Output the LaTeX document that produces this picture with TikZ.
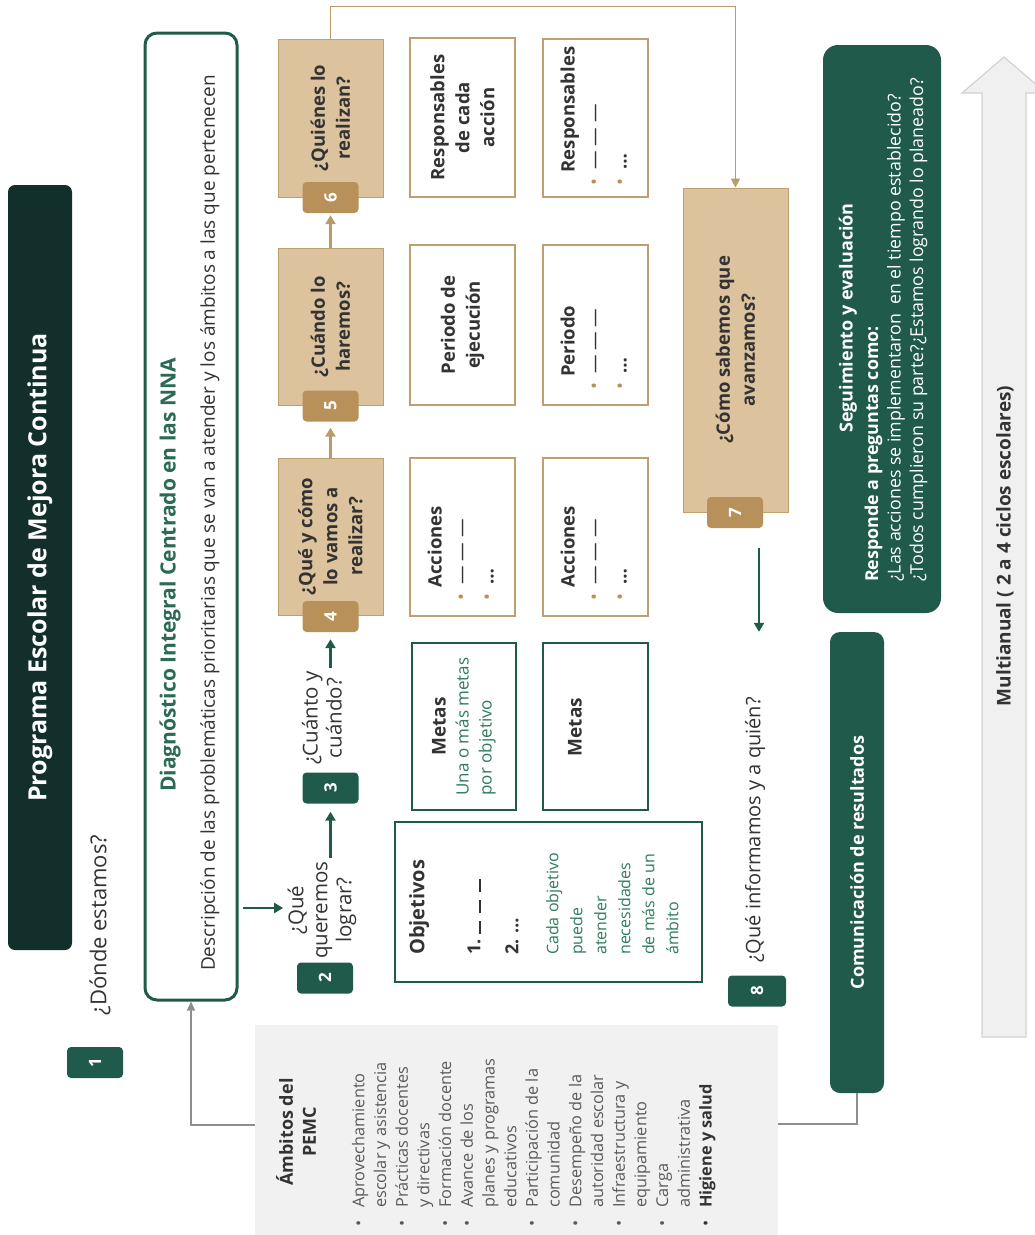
\documentclass[tikz,border=0pt]{standalone}
\usepackage{fontspec}
\setmainfont{Open Sans}
\usetikzlibrary{arrows.meta,calc}
\definecolor{darkbg}{HTML}{132F2B}
\definecolor{dgreen}{HTML}{1F5A4A}
\definecolor{dtitle}{HTML}{2B6A54}
\definecolor{lgtxt}{HTML}{2E7B5B}
\definecolor{tanfill}{HTML}{DCC39D}
\definecolor{tanbord}{HTML}{BE9F6E}
\definecolor{tanbadge}{HTML}{B8915A}
\definecolor{tanline}{HTML}{B99A68}
\definecolor{txt}{HTML}{333333}
\definecolor{listc}{HTML}{5A5A5A}
\definecolor{lgray}{HTML}{F1F1F1}
\definecolor{arrgray}{HTML}{F0F0F0}
\definecolor{arrbord}{HTML}{D2D2D2}
\definecolor{conng}{HTML}{8E8E8E}
\newcommand\myfs[2]{\fontsize{#1}{#2}\selectfont}
\newcommand\dashbar{\rule[-0.5pt]{13pt}{1.6pt}}
\newcommand\blist[1]{\begin{tabular}{@{}l@{\hspace{9pt}}l@{}}\multicolumn{2}{@{\hspace{13pt}}l@{}}{\bfseries #1}\\ \textcolor{tanbadge}{•} & — — —\\ \textcolor{tanbadge}{•} & \bfseries …\end{tabular}}
\begin{document}
\begin{tikzpicture}[x=1pt,y=-1pt,
 rot/.style={rotate=90},
 badge/.style={rot, rounded corners=4pt, minimum width=31pt, minimum height=56pt, inner sep=0pt, text=white, font=\bfseries\myfs{17}{18}},
 gbadge/.style={badge, fill=dgreen},
 tbadge/.style={badge, fill=tanbadge},
 tanbox/.style={rot, fill=tanfill, draw=tanbord, line width=1pt, minimum width=157pt, minimum height=105pt, inner sep=0pt, align=center, text=txt, font=\bfseries\myfs{18.5}{25}},
 wtbox/.style={rot, fill=white, draw=tanbord, line width=2pt, minimum width=158pt, minimum height=105pt, inner sep=0pt, align=center, text=txt, font=\bfseries\myfs{18.5}{25}},
 wgbox/.style={rot, fill=white, draw=dgreen, line width=2pt, inner sep=0pt, text=txt},
 gar/.style={draw=dgreen, line width=2.6pt, -{Triangle[length=9pt,width=10pt]}},
 tar/.style={draw=tanline, line width=2.6pt, -{Triangle[length=9pt,width=10pt]}},
 tline/.style={draw=tanline, line width=1.6pt, -{Triangle[length=9pt,width=9pt]}},
 grar/.style={draw=conng, line width=1.2pt, -{Triangle[length=9pt,width=8pt]}},
 grline/.style={draw=conng, line width=1.2pt},
 q/.style={rot, text=txt, align=center, font=\myfs{20.5}{24}},
 listtxt/.style={rot, inner sep=0pt, text=txt, font=\myfs{18.5}{26}},
]
\useasboundingbox (0,0) rectangle (1035,1235);

% title and step 1
\node[rot, fill=darkbg, rounded corners=7pt, minimum width=765pt, minimum height=64pt, text=white, font=\bfseries\myfs{25}{28}] (title) at (40,567.5) {Programa Escolar de Mejora Continua};
\node[rot, text=txt, font=\myfs{22}{24}] (q1) at (100,925) {¿Dónde estamos?};
\node[gbadge] (b1) at (95,1062.5) {1};

% diagnostico
\node[rot, fill=white, draw=dgreen, line width=3pt, rounded corners=12pt, minimum width=967pt, minimum height=92pt] (diag) at (191,516.5) {};
\node[rot, text=dtitle, font=\bfseries\myfs{21}{24}] (diagt) at (170,575) {Diagnóstico Integral Centrado en las NNA};
\node[rot, text=txt, font=\myfs{19}{20}] (diagd) at (210,523) {Descripción de las problemáticas prioritarias que se van a atender y los ámbitos a las que pertenecen};

% ambitos
\node[rot, fill=lgray, minimum width=210pt, minimum height=523pt] (amb) at (516.5,1130) {};
\node[rot, align=center, text=txt, font=\bfseries\myfs{18}{23}] (ambt) at (296,1132) {Ámbitos del\\PEMC};
\node[rot, anchor=north west, inner sep=0pt, text=listc, font=\myfs{16.3}{21.7}] (ambl) at (349,1227) {\begin{tabular}{@{}l@{\hspace{13pt}}l@{}}
• & Aprovechamiento\\ & escolar y asistencia\\ • & Prácticas docentes\\ & y directivas\\ • & Formación docente\\ • & Avance de los\\ & planes y programas\\ & educativos\\ • & Participación de la\\ & comunidad\\ • & Desempeño de la\\ & autoridad escolar\\ • & Infraestructura y\\ & equipamiento\\ • & Carga\\ & administrativa\\ \textcolor{txt}{•} & \textcolor{txt}{\bfseries Higiene y salud}\end{tabular}};
\draw[grar] ([yshift=5pt]amb.north) -| (diag.west);

% step 2 and 3
\node[gbadge] (b2) at (325,978) {2};
\node[q] (q2) at (322,910) {¿Qué\\queremos\\lograr?};
\draw[gar] ($(diag.south |- q2.center)+(4,-2)$) -- ($(q2.north)+(-1,-2)$);
\node[gbadge] (b3) at (330.5,788) {3};
\draw[gar, shorten >=8pt] (q2.east -| b3.center) -- (b3.west);
\node[q] (q3) at (322,718) {¿Cuánto y\\cuándo?};

% tan steps 4-6
\node[tanbox] (box4) at (330.5,536.5) {¿Qué y cómo\\lo vamos a\\realizar?};
\node[tbadge] (b4) at (330.5,616.5) {4};
\draw[gar, shorten >=7pt] (q3.east -| b4.center) -- (b4.west);
\node[tanbox, minimum width=157pt] (box5) at (330.5,326.5) {¿Cuándo lo\\haremos?};
\node[tbadge] (b5) at (330.5,406) {5};
\draw[tar, shorten >=6pt] (box4.east -| b5.center) -- (b5.west);
\node[tanbox, minimum width=158pt] (box6) at (330.5,118) {¿Quiénes lo\\realizan?};
\node[tbadge] (b6) at (330.5,197.5) {6};
\draw[tar, shorten >=2pt] (box5.east -| b6.center) -- (b6.west);

% white boxes
\node[wgbox, minimum width=167pt, minimum height=104pt, font=\myfs{17}{23}] (m1) at (464,726.5) {\begin{tabular}{@{}l@{}}\multicolumn{1}{@{}c@{}}{\textcolor{txt}{\bfseries\myfs{19}{25}Metas}}\\ \textcolor{lgtxt}{Una o más metas}\\ \textcolor{lgtxt}{por objetivo}\end{tabular}};
\node[wgbox, minimum width=167pt, minimum height=105pt] (m2) at (595.5,726.5) {};
\node[rot, text=txt, font=\bfseries\myfs{19}{24}] (m2t) at (575,727) {Metas};
\node[wgbox, minimum width=160pt, minimum height=307pt] (obj) at (548.5,902) {};
\node[rot, anchor=north west, inner sep=0pt, align=left, text=txt, font=\myfs{16}{24}] (objt) at (409,955) {{\bfseries\myfs{20}{24}Objetivos}\\[32pt]{\bfseries\myfs{18}{24}1.}\hspace{5pt}\dashbar\hspace{8pt}\dashbar\hspace{8pt}\dashbar\\[14pt]{\bfseries\myfs{18}{24}2. …}\\[16pt]\textcolor{lgtxt}{Cada objetivo}\\\textcolor{lgtxt}{puede}\\\textcolor{lgtxt}{atender}\\\textcolor{lgtxt}{necesidades}\\\textcolor{lgtxt}{de más de un}\\\textcolor{lgtxt}{ámbito}};

\node[wtbox, minimum width=159pt] (r1) at (462.5,117.5) {Responsables\\de cada\\acción};
\node[wtbox] (r2) at (595.5,117.5) {};
\node[listtxt, anchor=west] (r2t) at ($(r2.west)+(0,-12)$) {\blist{Responsables}};
\node[wtbox, minimum width=160pt] (p1) at (462.5,325) {Periodo de\\ejecución};
\node[wtbox, minimum width=160pt] (p2) at (595.5,325) {};
\node[listtxt, anchor=west] (p2t) at ($(p2.west)+(0,-16)$) {\blist{Periodo}};
\node[wtbox] (a1) at (462.5,536.5) {};
\node[listtxt, anchor=west] (a1t) at ($(a1.west)+(0,-16)$) {\blist{Acciones}};
\node[wtbox] (a2) at (595.5,536.5) {};
\node[listtxt, anchor=west] (a2t) at ($(a2.west)+(0,-16)$) {\blist{Acciones}};

% step 7
\node[tanbox, minimum width=324pt] (box7) at (735.5,350) {¿Cómo sabemos que\\avanzamos?};
\node[tbadge] (b7) at (735,512.5) {7};
\draw[tline] (box6.east) -- ++(0,-32) -| (box7.east);

% seguimiento
\node[rot, fill=dgreen, rounded corners=15pt, minimum width=568pt, minimum height=118pt] (seg) at (882,329) {};
\node[rot, text=white, font=\bfseries\myfs{18}{20}] (segt) at (848,318) {Seguimiento y evaluación};
\node[rot, anchor=west, inner sep=0pt, text=white, align=left, font=\myfs{17.8}{22.5}] (segl) at (896,582) {\textbf{Responde a preguntas como:}\\¿Las acciones se implementaron\ \ en el tiempo establecido?\\¿Todos cumplieron su parte?¿Estamos logrando lo planeado?};

% step 8
\node[rot, fill=dgreen, rounded corners=10pt, minimum width=461pt, minimum height=54pt, text=white, font=\bfseries\myfs{18}{20}] (comm) at (857,862.5) {Comunicación de resultados};
\node[rot, text=txt, font=\myfs{20}{22}] (q8) at (755,830) {¿Qué informamos y a quién?};
\node[gbadge, minimum height=58pt] (b8) at (757,991) {8};
\coordinate (s7) at ($(b7.west)+(24,20)$);
\draw[gar] (s7) -- (s7 |- comm.east);
\draw[grline] (comm.west) |- ([yshift=6pt]amb.south);

% multianual arrow
\draw[fill=arrgray, draw=arrbord, line width=1.2pt] (982,1037) -- (982,93) -- (962,93) -- (1004,57) -- (1046,93) -- (1026,93) -- (1026,1037) -- cycle;
\node[rot, text=txt, font=\bfseries\myfs{19}{20}] (multi) at (1005,546) {Multianual ( 2 a 4 ciclos escolares)};
\end{tikzpicture}
\end{document}
